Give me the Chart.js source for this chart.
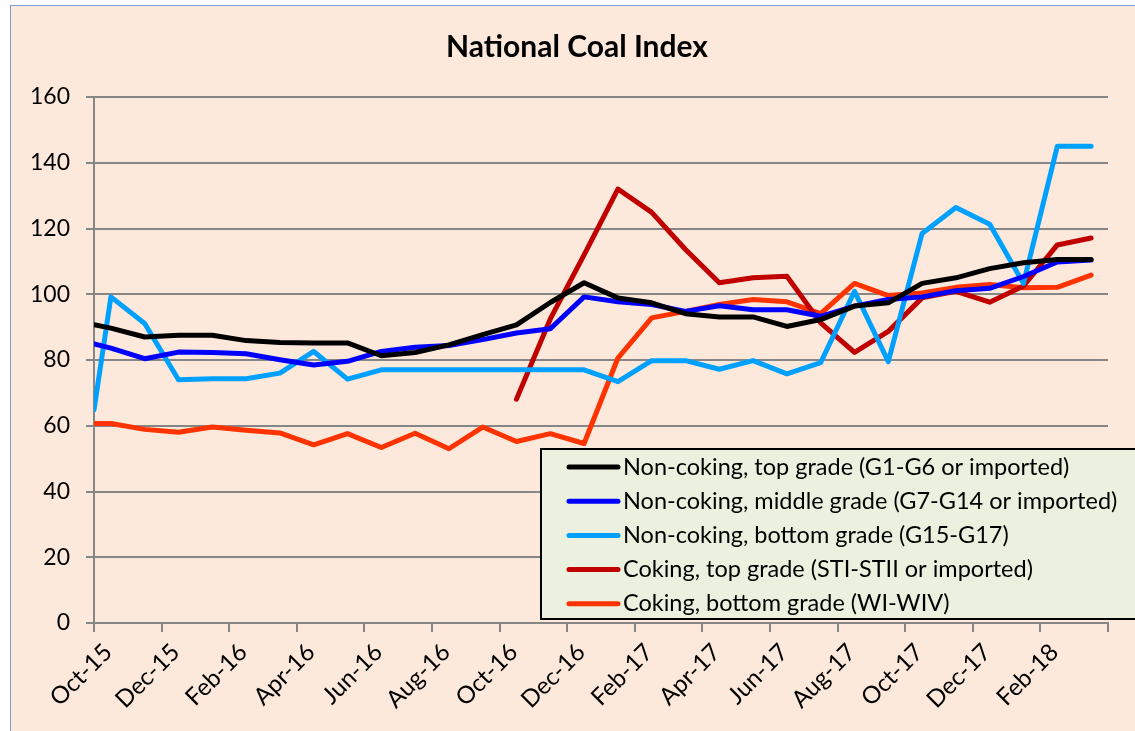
<!DOCTYPE html>
<html>
<head>
<meta charset="utf-8">
<title>National Coal Index</title>
<script src="https://cdn.jsdelivr.net/npm/chart.js@4.4.1/dist/chart.umd.min.js"></script>
<style>
  html, body { margin: 0; padding: 0; background: #fff; }
  canvas { display: block; }
</style>
</head>
<body>
<canvas id="coalChart" width="1135" height="731"></canvas>
<script>
// first reading at the start of Oct-15, then one reading around the middle of each month
const dates = [
  '2015-10-01', '2015-10-16', '2015-11-16', '2015-12-16',
  '2016-01-16', '2016-02-16', '2016-03-16', '2016-04-16', '2016-05-16', '2016-06-16',
  '2016-07-16', '2016-08-16', '2016-09-16', '2016-10-16', '2016-11-16', '2016-12-16',
  '2017-01-16', '2017-02-16', '2017-03-16', '2017-04-16', '2017-05-16', '2017-06-16',
  '2017-07-16', '2017-08-16', '2017-09-16', '2017-10-16', '2017-11-16', '2017-12-16',
  '2018-01-16', '2018-02-16', '2018-03-16'
];

const tickLabels = ['Oct-15', 'Dec-15', 'Feb-16', 'Apr-16', 'Jun-16', 'Aug-16', 'Oct-16', 'Dec-16',
  'Feb-17', 'Apr-17', 'Jun-17', 'Aug-17', 'Oct-17', 'Dec-17', 'Feb-18'];

const nonCokingTop = [90.7, 89.7, 87.0, 87.5, 87.5, 85.9, 85.3, 85.2, 85.2, 81.3, 82.3, 84.6, 87.7,
  90.7, 97.5, 103.5, 98.9, 97.4, 94.1, 93.1, 93.1, 90.2, 92.3, 96.4, 97.4, 103.3, 105.0, 107.8,
  109.6, 110.6, 110.6];
const nonCokingMiddle = [84.9, 83.6, 80.4, 82.4, 82.3, 81.9, 80.1, 78.5, 79.6, 82.6, 83.9, 84.4, 86.2,
  88.2, 89.5, 99.2, 97.7, 96.9, 94.8, 96.5, 95.3, 95.3, 93.3, 96.4, 98.4, 99.2, 101.1, 101.8,
  105.4, 109.8, 110.4];
const nonCokingBottom = [64.8, 99.2, 91.1, 74.0, 74.3, 74.3, 76.0, 82.6, 74.2, 77.0, 77.0, 77.0, 77.0,
  77.0, 77.0, 77.0, 73.4, 79.8, 79.8, 77.2, 79.8, 75.8, 79.2, 100.9, 79.5, 118.5, 126.4, 121.3,
  103.3, 145.0, 145.0];
const cokingTop = [null, null, null, null, null, null, null, null, null, null, null, null, null,
  68.1, 92.5, 112.0, 132.0, 124.9, 113.6, 103.5, 105.0, 105.5, 91.3, 82.3, 88.7, 98.9, 100.9, 97.6,
  102.5, 115.0, 117.1];
const cokingBottom = [60.7, 60.7, 58.9, 58.0, 59.6, 58.6, 57.8, 54.2, 57.6, 53.4, 57.7, 53.0, 59.6,
  55.2, 57.6, 54.6, 80.6, 92.8, 94.8, 96.9, 98.4, 97.7, 94.1, 103.3, 99.6, 100.4, 102.1, 103.0,
  102.0, 102.1, 105.8];

const seriesNames = [
  'Non-coking, top grade (G1-G6 or imported)',
  'Non-coking, middle grade (G7-G14 or imported)',
  'Non-coking, bottom grade (G15-G17)',
  'Coking, top grade (STI-STII or imported)',
  'Coking, bottom grade (WI-WIV)'
];
const seriesColors = ['#000000', '#0000ff', '#00a0ff', '#c00000', '#ff3300'];

// months elapsed since 1 Oct 2015
function monthOffset(d) {
  const [y, m, day] = d.split('-').map(Number);
  return (y - 2015) * 12 + (m - 10) + (day - 1) / 30;
}

function points(values) {
  return dates.map((d, i) => ({ x: monthOffset(d), y: values[i] }));
}

const allSeries = [nonCokingTop, nonCokingMiddle, nonCokingBottom, cokingTop, cokingBottom];
const FONT = 'Lato, "Open Sans", sans-serif';

const frame = {
  id: 'frame',
  beforeDraw(chart) {
    const ctx = chart.ctx;
    ctx.save();
    ctx.fillStyle = '#ffffff';
    ctx.fillRect(0, 0, chart.width, chart.height);
    ctx.fillStyle = '#fde9db';
    ctx.fillRect(10, 5, chart.width, chart.height);
    ctx.strokeStyle = '#7a9cd3';
    ctx.lineWidth = 1;
    ctx.strokeRect(10.5, 5.5, chart.width, chart.height);
    ctx.fillStyle = '#000';
    ctx.font = 'bold 30px ' + FONT;
    ctx.textAlign = 'center';
    ctx.textBaseline = 'middle';
    ctx.fillText('National Coal Index', 577, 47);
    ctx.restore();
  }
};

const boxLegend = {
  id: 'boxLegend',
  afterDatasetsDraw(chart) {
    const ctx = chart.ctx;
    ctx.save();
    ctx.fillStyle = '#ebf1de';
    ctx.fillRect(541, 449, 600, 170);
    ctx.strokeStyle = '#000';
    ctx.lineWidth = 2;
    ctx.strokeRect(541, 449, 600, 170);
    ctx.font = '23.5px ' + FONT;
    ctx.textBaseline = 'middle';
    ctx.textAlign = 'left';
    chart.data.datasets.forEach((ds, i) => {
      const y = 467 + i * 34.2;
      ctx.strokeStyle = ds.borderColor;
      ctx.lineWidth = 5;
      ctx.lineCap = 'round';
      ctx.beginPath();
      ctx.moveTo(569, y);
      ctx.lineTo(618, y);
      ctx.stroke();
      ctx.fillStyle = '#000';
      ctx.fillText(ds.label, 623, y);
    });
    ctx.restore();
  }
};

new Chart(document.getElementById('coalChart'), {
  type: 'line',
  data: {
    datasets: allSeries.map((values, i) => ({
      label: seriesNames[i],
      data: points(values),
      borderColor: seriesColors[i],
      backgroundColor: seriesColors[i]
    }))
  },
  options: {
    responsive: false,
    animation: false,
    devicePixelRatio: 1,
    layout: { padding: { left: 10, right: 27, top: 97, bottom: 0 } },
    elements: {
      point: { radius: 0, hoverRadius: 0 },
      line: { borderWidth: 5, tension: 0, borderCapStyle: 'round', borderJoinStyle: 'round' }
    },
    plugins: {
      legend: { display: false },
      tooltip: { enabled: false }
    },
    scales: {
      x: {
        type: 'linear',
        min: 0,
        max: 30,
        afterFit: (s) => { s.height = 108; },
        grid: { drawOnChartArea: false, color: '#868686', lineWidth: 2, tickLength: 9 },
        border: { color: '#868686', width: 2 },
        ticks: {
          stepSize: 2,
          autoSkip: false,
          minRotation: 45,
          maxRotation: 45,
          labelOffset: 14,
          padding: 6,
          color: '#000',
          font: { family: FONT, size: 24 },
          callback: (v) => tickLabels[v / 2] || ''
        }
      },
      y: {
        min: 0,
        max: 160,
        afterFit: (s) => { s.width = 84; },
        grid: { color: '#868686', lineWidth: 2, tickLength: 8 },
        border: { color: '#868686', width: 2 },
        ticks: {
          stepSize: 20,
          padding: 16,
          color: '#000',
          font: { family: FONT, size: 23 }
        }
      }
    }
  },
  plugins: [frame, boxLegend]
});
</script>
</body>
</html>
